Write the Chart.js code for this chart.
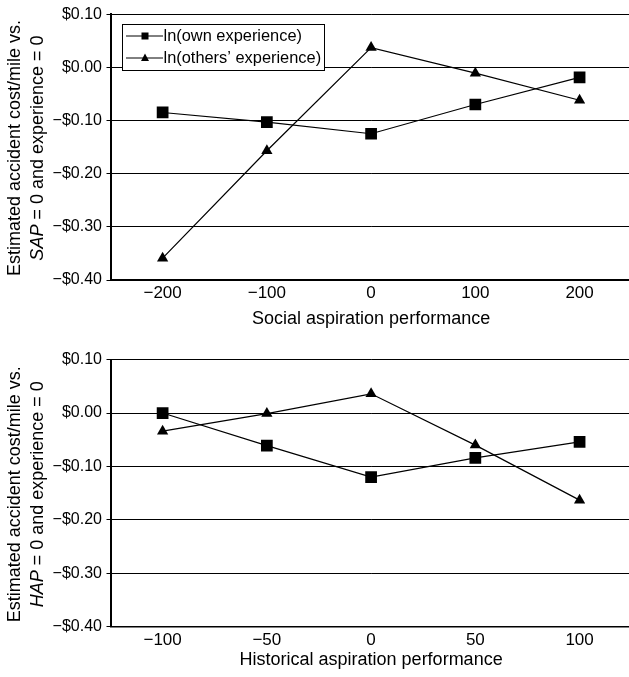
<html lang="en">
  <head>
    <meta charset="UTF-8" />
    <title>Accident cost vs aspiration performance</title>
    <script src="https://cdn.jsdelivr.net/npm/chart.js@4.4.0/dist/chart.umd.min.js"></script>
    <style>
      html, body { margin: 0; padding: 0; background: #fff; overflow: hidden; }
      #wrap { position: relative; width: 640px; height: 677px; }
      #socialCanvas { position: absolute; left: 0; top: 0; }
      #historicalCanvas { position: absolute; left: 0; top: 340px; }
    </style>
  </head>
  <body>
    <div id="wrap">
      <canvas id="socialCanvas" width="640" height="340"></canvas>
      <canvas id="historicalCanvas" width="640" height="337"></canvas>
    </div>
    <script>
      // Data
      const socialLabels = ["\u2212200", "\u2212100", "0", "100", "200"];
      const socialOwn = [-0.085, -0.103, -0.125, -0.07, -0.019];
      const socialOthers = [-0.359, -0.157, 0.037, -0.011, -0.062];

      const historicalLabels = ["\u2212100", "\u221250", "0", "50", "100"];
      const historicalOwn = [0.0, -0.061, -0.12, -0.084, -0.054];
      const historicalOthers = [-0.034, -0.001, 0.036, -0.06, -0.163];

      const seriesNames = ["ln(own experience)", "ln(others\u2019 experience)"];
      const yTicks = [0.1, 0.0, -0.1, -0.2, -0.3, -0.4];

      const FONT = "'Liberation Sans', Arial, Helvetica, sans-serif";
      Chart.defaults.font.family = FONT;
      Chart.defaults.color = "#000";

      function formatDollar(v) {
        const r = Math.round(v * 100) / 100;
        if (Math.abs(r) < 1e-9) return "$0.00";
        return (r < 0 ? "\u2212$" : "$") + Math.abs(r).toFixed(2);
      }

      // rotated two-line y axis title, first word of line two in italics
      function yTitlePlugin(italicPart, restPart) {
        return {
          id: "yTitle",
          afterDraw(chart) {
            const ctx = chart.ctx;
            const area = chart.chartArea;
            const cy = (area.top + area.bottom) / 2 + 1;
            ctx.save();
            ctx.fillStyle = "#000";
            ctx.textBaseline = "middle";
            ctx.translate(0, cy);
            ctx.rotate(-Math.PI / 2);
            ctx.font = "18px " + FONT;
            ctx.textAlign = "center";
            ctx.fillText("Estimated accident cost/mile vs.", 0, 15);
            ctx.font = "italic 18px " + FONT;
            const w1 = ctx.measureText(italicPart).width;
            ctx.font = "18px " + FONT;
            const w2 = ctx.measureText(restPart).width;
            const start = -(w1 + w2) / 2;
            ctx.textAlign = "left";
            ctx.font = "italic 18px " + FONT;
            ctx.fillText(italicPart, start, 38);
            ctx.font = "18px " + FONT;
            ctx.fillText(restPart, start + w1, 38);
            ctx.restore();
          },
        };
      }

      // boxed legend in the upper left of the plot
      const legendPlugin = {
        id: "boxLegend",
        afterDatasetsDraw(chart) {
          const ctx = chart.ctx;
          ctx.save();
          ctx.fillStyle = "#fff";
          ctx.fillRect(122.5, 24.5, 202, 46);
          ctx.strokeStyle = "#000";
          ctx.lineWidth = 1;
          ctx.strokeRect(122.5, 24.5, 202, 46);
          chart.data.datasets.forEach((ds, i) => {
            const y = 36 + i * 22;
            ctx.beginPath();
            ctx.moveTo(126, y);
            ctx.lineTo(163, y);
            ctx.stroke();
            ctx.fillStyle = "#000";
            if (ds.pointStyle === "rect") {
              ctx.fillRect(141.5, y - 3.5, 7, 7);
            } else {
              ctx.beginPath();
              ctx.moveTo(145, y - 4.5);
              ctx.lineTo(149, y + 3);
              ctx.lineTo(141, y + 3);
              ctx.closePath();
              ctx.fill();
            }
            ctx.font = "16.4px " + FONT;
            ctx.textAlign = "left";
            ctx.textBaseline = "middle";
            ctx.fillText(ds.label, 163.5, y);
          });
          ctx.restore();
        },
      };

      function makeDatasets(own, others) {
        return [
          {
            label: seriesNames[0],
            data: own,
            borderColor: "#000",
            backgroundColor: "#000",
            borderWidth: 1.2,
            pointStyle: "rect",
            pointRadius: 8.3,
            pointHoverRadius: 8.3,
            pointBorderWidth: 0,
            tension: 0,
          },
          {
            label: seriesNames[1],
            data: others,
            borderColor: "#000",
            backgroundColor: "#000",
            borderWidth: 1.2,
            pointStyle: "triangle",
            pointRadius: 6.5,
            pointHoverRadius: 6.5,
            pointBorderWidth: 0,
            tension: 0,
          },
        ];
      }

      function makeChart(canvasId, labels, own, others, xTitle, plotTop, plotBottom, titlePad, italicPart, plugins) {
        const canvas = document.getElementById(canvasId);
        return new Chart(canvas.getContext("2d"), {
          type: "line",
          data: { labels: labels, datasets: makeDatasets(own, others) },
          options: {
            responsive: false,
            animation: false,
            devicePixelRatio: 1,
            layout: { padding: { top: plotTop, left: 0, right: 0, bottom: 0 } },
            plugins: {
              legend: { display: false },
              tooltip: { enabled: false },
            },
            scales: {
              x: {
                type: "category",
                offset: true,
                grid: { display: false, drawTicks: false },
                border: { display: true, color: "#000", width: 1.5 },
                ticks: { font: { size: 17 }, padding: 3.3, color: "#000", maxRotation: 0 },
                title: {
                  display: true,
                  text: xTitle,
                  font: { size: 18 },
                  color: "#000",
                  padding: { top: 0, bottom: titlePad },
                },
                afterFit(scale) {
                  scale.height = canvas.height - plotBottom;
                },
              },
              y: {
                min: -0.4,
                max: 0.1,
                afterBuildTicks(scale) {
                  scale.ticks = yTicks.map((v) => ({ value: v }));
                },
                grid: { color: "#000", lineWidth: 1, tickLength: 4, drawTicks: true },
                border: { display: true, color: "#000", width: 2 },
                ticks: {
                  font: { size: 16 },
                  padding: 4.5,
                  color: "#000",
                  callback: (v) => formatDollar(v),
                },
                afterFit(scale) {
                  scale.width = 110.5;
                },
              },
            },
          },
          plugins: [yTitlePlugin(italicPart, " = 0 and experience = 0")].concat(plugins),
        });
      }

      makeChart("socialCanvas", socialLabels, socialOwn, socialOthers,
        "Social aspiration performance", 13, 280, 10.2, "SAP", [legendPlugin]);
      makeChart("historicalCanvas", historicalLabels, historicalOwn, historicalOthers,
        "Historical aspiration performance", 19.6, 286.8, 6.2, "HAP", []);
    </script>
  </body>
</html>
